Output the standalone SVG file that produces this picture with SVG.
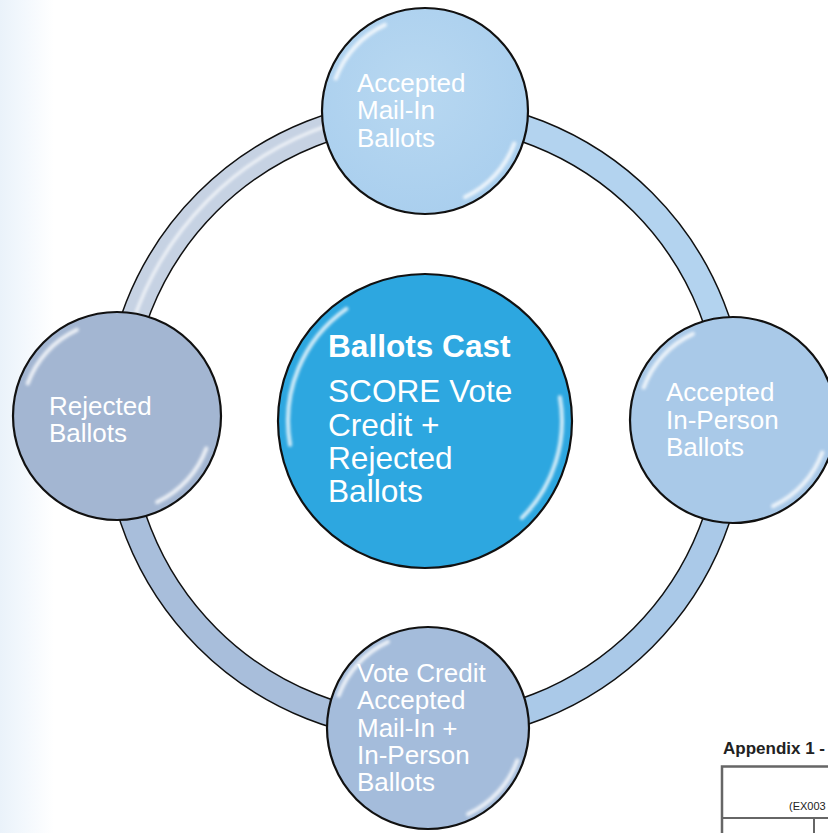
<svg xmlns="http://www.w3.org/2000/svg" width="828" height="833" viewBox="0 0 828 833">
<defs>
<linearGradient id="bgStrip" x1="0" y1="0" x2="1" y2="0">
<stop offset="0" stop-color="#eaf2fa"/>
<stop offset="0.3" stop-color="#f0f6fc"/>
<stop offset="1" stop-color="#ffffff"/>
</linearGradient>
<radialGradient id="gTop" cx="0.45" cy="0.4" r="0.6">
<stop offset="0" stop-color="#b8d8f1"/>
<stop offset="1" stop-color="#aacfee"/>
</radialGradient>
<filter id="soft" x="-20%" y="-20%" width="140%" height="140%">
<feGaussianBlur stdDeviation="1.4"/>
</filter>
<path id="hlS" d="M-89.3,-32.5 A95,95 0 0 1 -40.1,-86.1 M89.3,32.5 A95,95 0 0 1 40.1,86.1"/>
</defs>
<style>
.node-outline{stroke:#111;stroke-width:2.2}
.hl{fill:none;stroke:#ffffff;stroke-width:4;stroke-linecap:round;opacity:0.8;filter:url(#soft)}
.lbl{font-family:"Liberation Sans",Arial,sans-serif;font-size:26px;fill:#ffffff}
.lblC{font-family:"Liberation Sans",Arial,sans-serif;font-size:31.6px;fill:#ffffff}
.ring{fill:none;stroke-width:25}
.app{font-family:"Liberation Sans",Arial,sans-serif;fill:#222}
</style>

<rect x="0" y="0" width="828" height="833" fill="#ffffff"/>
<rect x="0" y="0" width="54" height="833" fill="url(#bgStrip)"/>

<g id="connectors">
<circle cx="425" cy="420" r="308" fill="none" stroke="#111" stroke-width="28"/>
<path class="ring" stroke="#c6d2e3" d="M117,420 A308,308 0 0 1 425,112"/>
<path class="ring" stroke="#b3d3ef" d="M425,112 A308,308 0 0 1 733,420"/>
<path class="ring" stroke="#aac9e8" d="M733,420 A308,308 0 0 1 425,728"/>
<path class="ring" stroke="#a8bedb" d="M425,728 A308,308 0 0 1 117,420"/>
<path d="M117,420 A311,311 0 0 1 425,109" fill="none" stroke="#ffffff" stroke-width="3" opacity="0.75" filter="url(#soft)"/>
</g>

<g id="node-center">
<circle class="node-outline" cx="425" cy="421" r="147" fill="#2da7e0"/>
<path class="hl" transform="translate(425,421)" d="M-134.9,23.8 A137,137 0 0 1 -78.6,-112.2 M134.9,-23.8 A137,137 0 0 1 96.9,96.9"/>
<text x="328" y="357" class="lblC" font-weight="bold">Ballots Cast</text>
<text class="lblC"><tspan x="328" y="402">SCORE Vote</tspan><tspan x="328" y="436">Credit +</tspan><tspan x="328" y="469">Rejected</tspan><tspan x="328" y="502">Ballots</tspan></text>
</g>

<g id="node-top">
<circle class="node-outline" cx="425" cy="111" r="103" fill="url(#gTop)"/>
<use href="#hlS" class="hl" transform="translate(425,111)"/>
<text class="lbl"><tspan x="357" y="92">Accepted</tspan><tspan x="357" y="119">Mail-In</tspan><tspan x="357" y="147">Ballots</tspan></text>
</g>

<g id="node-right">
<circle class="node-outline" cx="733" cy="420" r="103" fill="#a9c9e8"/>
<use href="#hlS" class="hl" transform="translate(733,420)"/>
<text class="lbl"><tspan x="666" y="401">Accepted</tspan><tspan x="666" y="429">In-Person</tspan><tspan x="666" y="456">Ballots</tspan></text>
</g>

<g id="node-left">
<circle class="node-outline" cx="117" cy="416" r="104" fill="#a3b6d2"/>
<use href="#hlS" class="hl" transform="translate(117,416)"/>
<text class="lbl"><tspan x="49" y="415">Rejected</tspan><tspan x="49" y="442">Ballots</tspan></text>
</g>

<g id="node-bottom">
<circle class="node-outline" cx="428" cy="728" r="101" fill="#a4bcdb"/>
<use href="#hlS" class="hl" transform="translate(428,728)"/>
<text class="lbl"><tspan x="357" y="682">Vote Credit</tspan><tspan x="357" y="709">Accepted</tspan><tspan x="357" y="737">Mail-In +</tspan><tspan x="357" y="764">In-Person</tspan><tspan x="357" y="791">Ballots</tspan></text>
</g>

<g id="appendix">
<text x="723" y="754" class="app" font-size="17" font-weight="bold">Appendix 1 -</text>
<path d="M722,833 V766.5 H828" fill="none" stroke="#666" stroke-width="2.5"/>
<path d="M722,818 H828 M814,818 V833" fill="none" stroke="#666" stroke-width="2"/>
<text x="789" y="810" class="app" font-size="11" fill="#444">(EX003</text>
</g>
</svg>
